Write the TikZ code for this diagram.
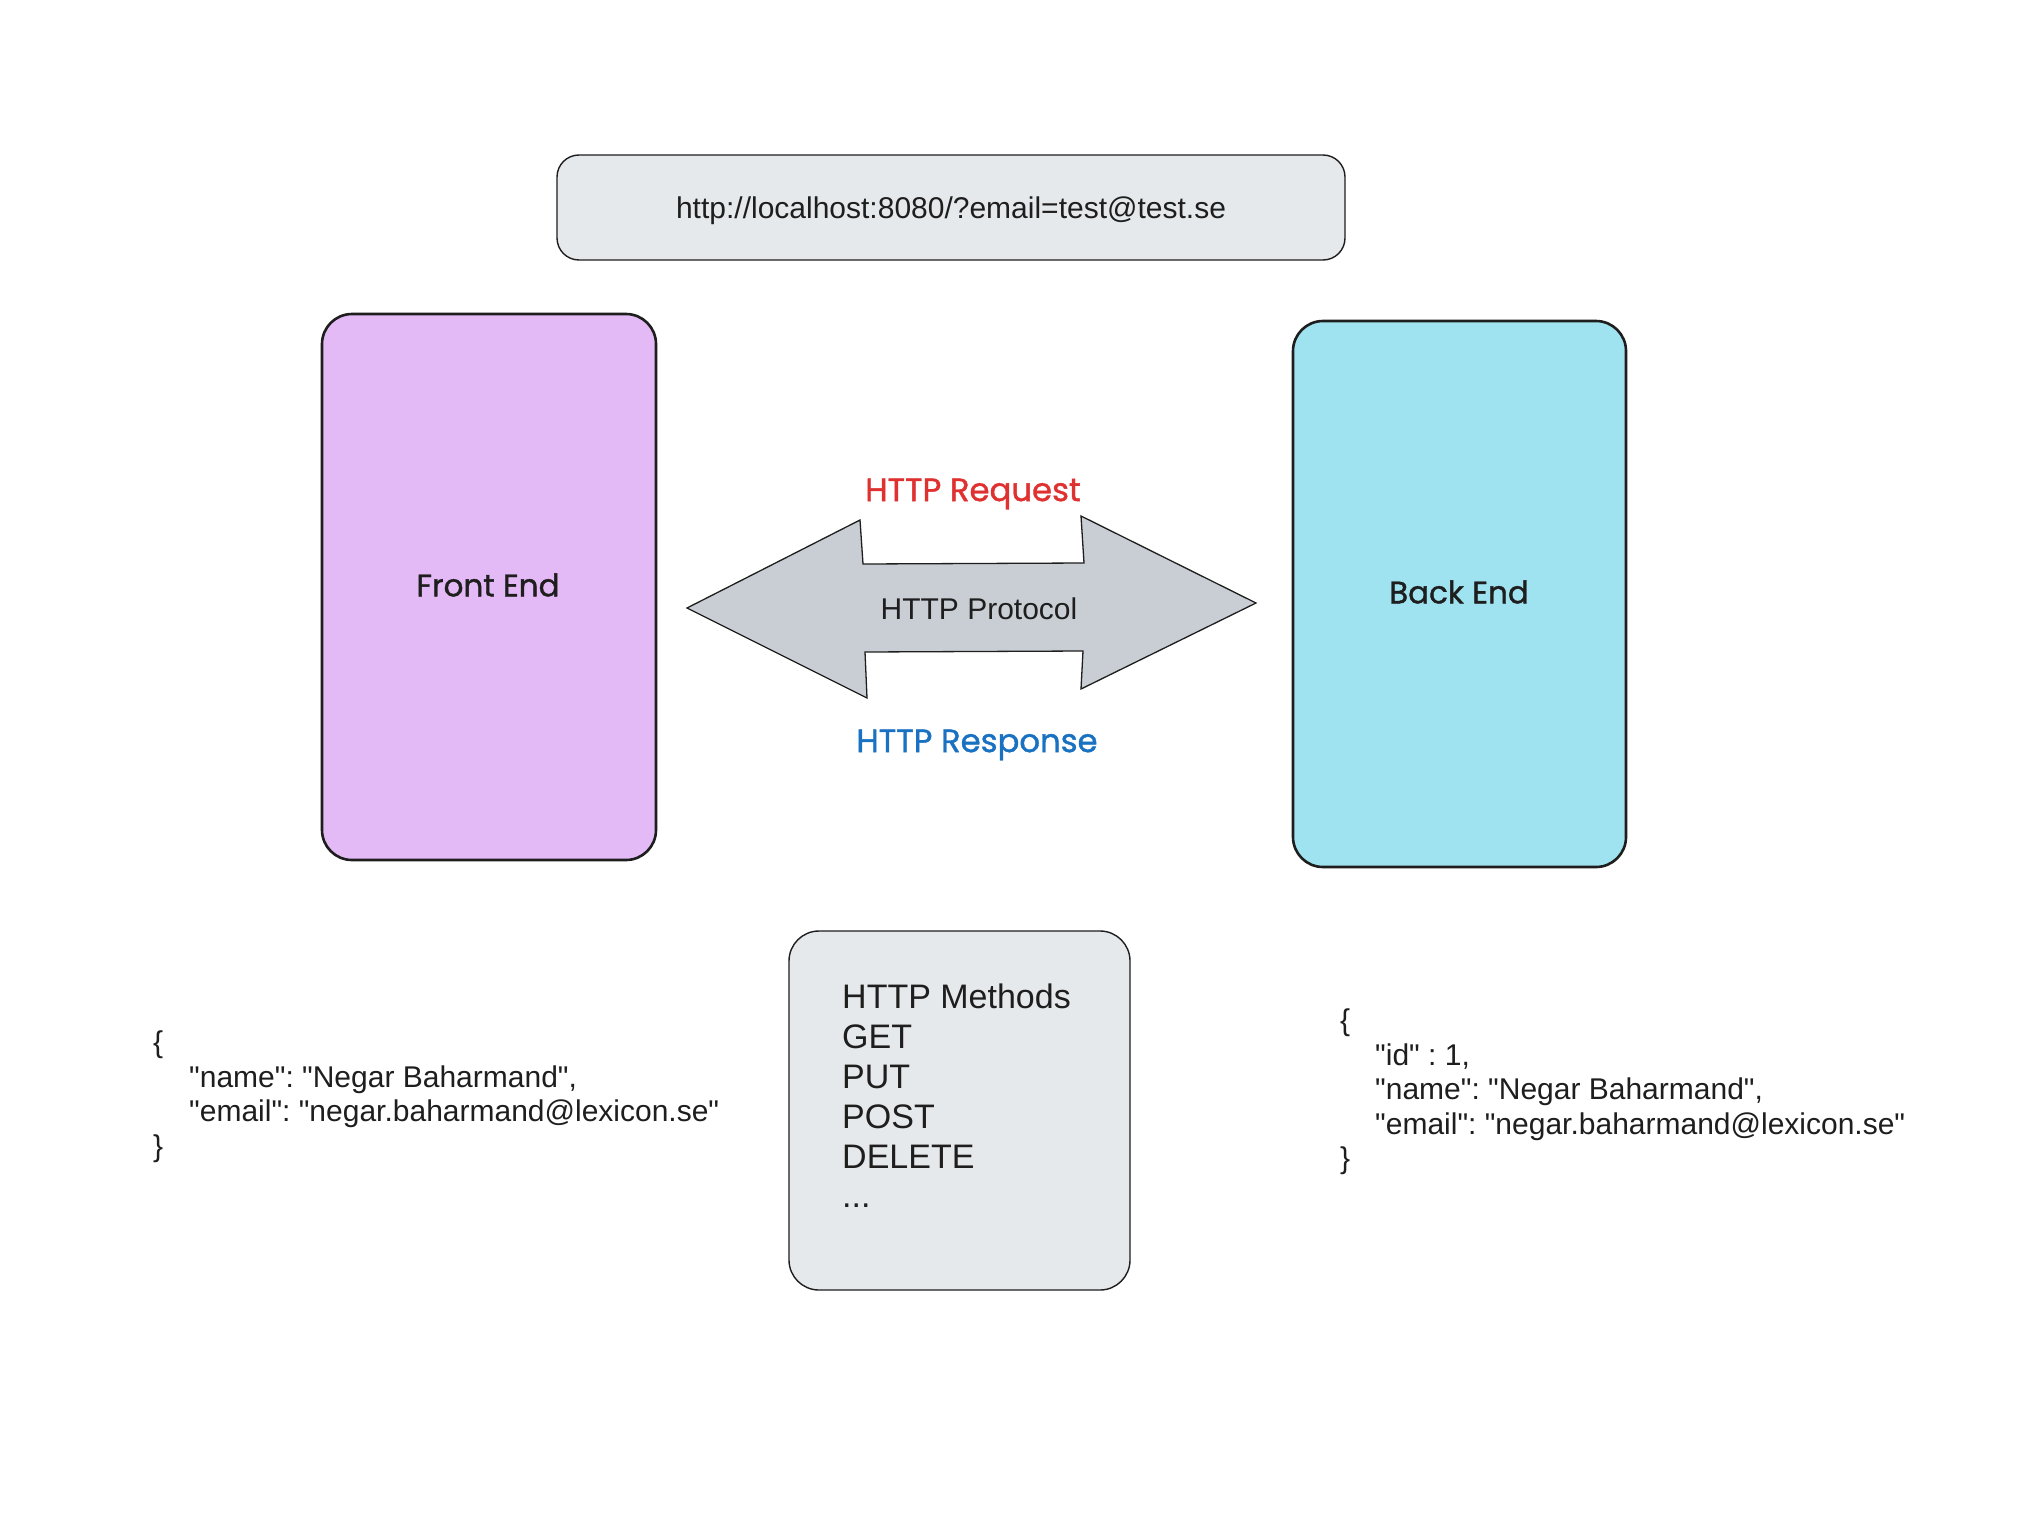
\documentclass[tikz,border=0pt]{standalone}
\usepackage{fontspec}
\setmainfont{Liberation Sans}
\newfontfamily\jsonfont{Liberation Sans}
\newfontfamily\hand{Poppins}[FakeBold=1.2]
\definecolor{purplefill}{HTML}{E3BAF5}
\definecolor{cyanfill}{HTML}{A0E3F0}
\definecolor{greyfill}{HTML}{C9CED5}
\definecolor{lightfill}{HTML}{E6E9EC}
\definecolor{reqred}{HTML}{E03131}
\definecolor{resblue}{HTML}{1971C2}
\definecolor{ink}{HTML}{1E1E1E}
\tikzset{
  endbox/.style={draw=ink, rounded corners=30pt, line width=2.6pt, inner sep=0pt},
  lightbox/.style={draw=ink, rounded corners=24pt, line width=1.4pt, fill=lightfill, inner sep=0pt},
  body/.style={font=\fontsize{30}{34.5}\selectfont, text=ink, inner sep=0pt},
  jsontxt/.style={font=\jsonfont\fontsize{30}{34.5}\selectfont\frenchspacing, text=ink, inner sep=0pt, align=left},
  methodtxt/.style={font=\fontsize{34}{39.8}\selectfont, text=ink, inner sep=0pt, align=left},
  handtxt/.style={font=\hand\fontsize{31}{34}\selectfont, inner sep=0pt},
  handlbl/.style={font=\hand\fontsize{32.3}{36}\selectfont, inner sep=0pt},
  arrowshape/.style={draw=ink, line width=1.3pt, fill=greyfill, line join=miter}
}
\begin{document}
\begin{tikzpicture}[x=1pt,y=-1pt]
\useasboundingbox[fill=white] (0,0) rectangle (2028,1536);

% URL box
\node[lightbox, minimum width=788pt, minimum height=105pt, rounded corners=22pt] (url) at (951,207.5) {};
\node[body] (urltext) at (951,211) {http://localhost:8080/?email=test@test.se};

% Front End / Back End
\node[endbox, fill=purplefill, minimum width=334pt, minimum height=546pt] (front) at (489,587) {};
\node[handtxt, text=ink] (frontlabel) at (488,585) {Front End};
\node[endbox, fill=cyanfill, minimum width=333pt, minimum height=546pt] (back) at (1459.5,594) {};
\node[handtxt, text=ink] (backlabel) at (1459,592) {Back End};

% double arrow
\coordinate (ltip) at (687,608);
\coordinate (rtip) at (1256,603);
\draw[arrowshape] (ltip) -- (860,520) -- (863,564) -- (1084,563) -- (1081,516)
  -- (rtip) -- (1081,689) -- (1083,651) -- (865,652) -- (867,698) -- cycle;
\node[body] (protocol) at (979,609) {HTTP Protocol};
\node[handlbl, text=reqred] (request) at (973,494) {HTTP Request};
\node[handlbl, text=resblue] (response) at (977,745) {HTTP Response};

% Methods box
\node[lightbox, minimum width=341pt, minimum height=359pt, rounded corners=30pt] (methods) at (959.5,1110.5) {};
\node[methodtxt, anchor=north west] (methodlist) at (842,984)
  {HTTP Methods\\GET\\PUT\\POST\\DELETE\\...};

% JSON texts
\node[jsontxt, anchor=north west] (reqjson) at (153,1031)
  {\{\\\hspace*{36pt}"name": "Negar Baharmand",\\\hspace*{36pt}"email": "negar.baharmand@lexicon.se"\\\}};
\node[jsontxt, anchor=north west] (resjson) at (1340,1009)
  {\{\\\hspace*{35pt}"id" : 1,\\\hspace*{35pt}"name": "Negar Baharmand",\\\hspace*{35pt}"email": "negar.baharmand@lexicon.se"\\\}};
\end{tikzpicture}
\end{document}
